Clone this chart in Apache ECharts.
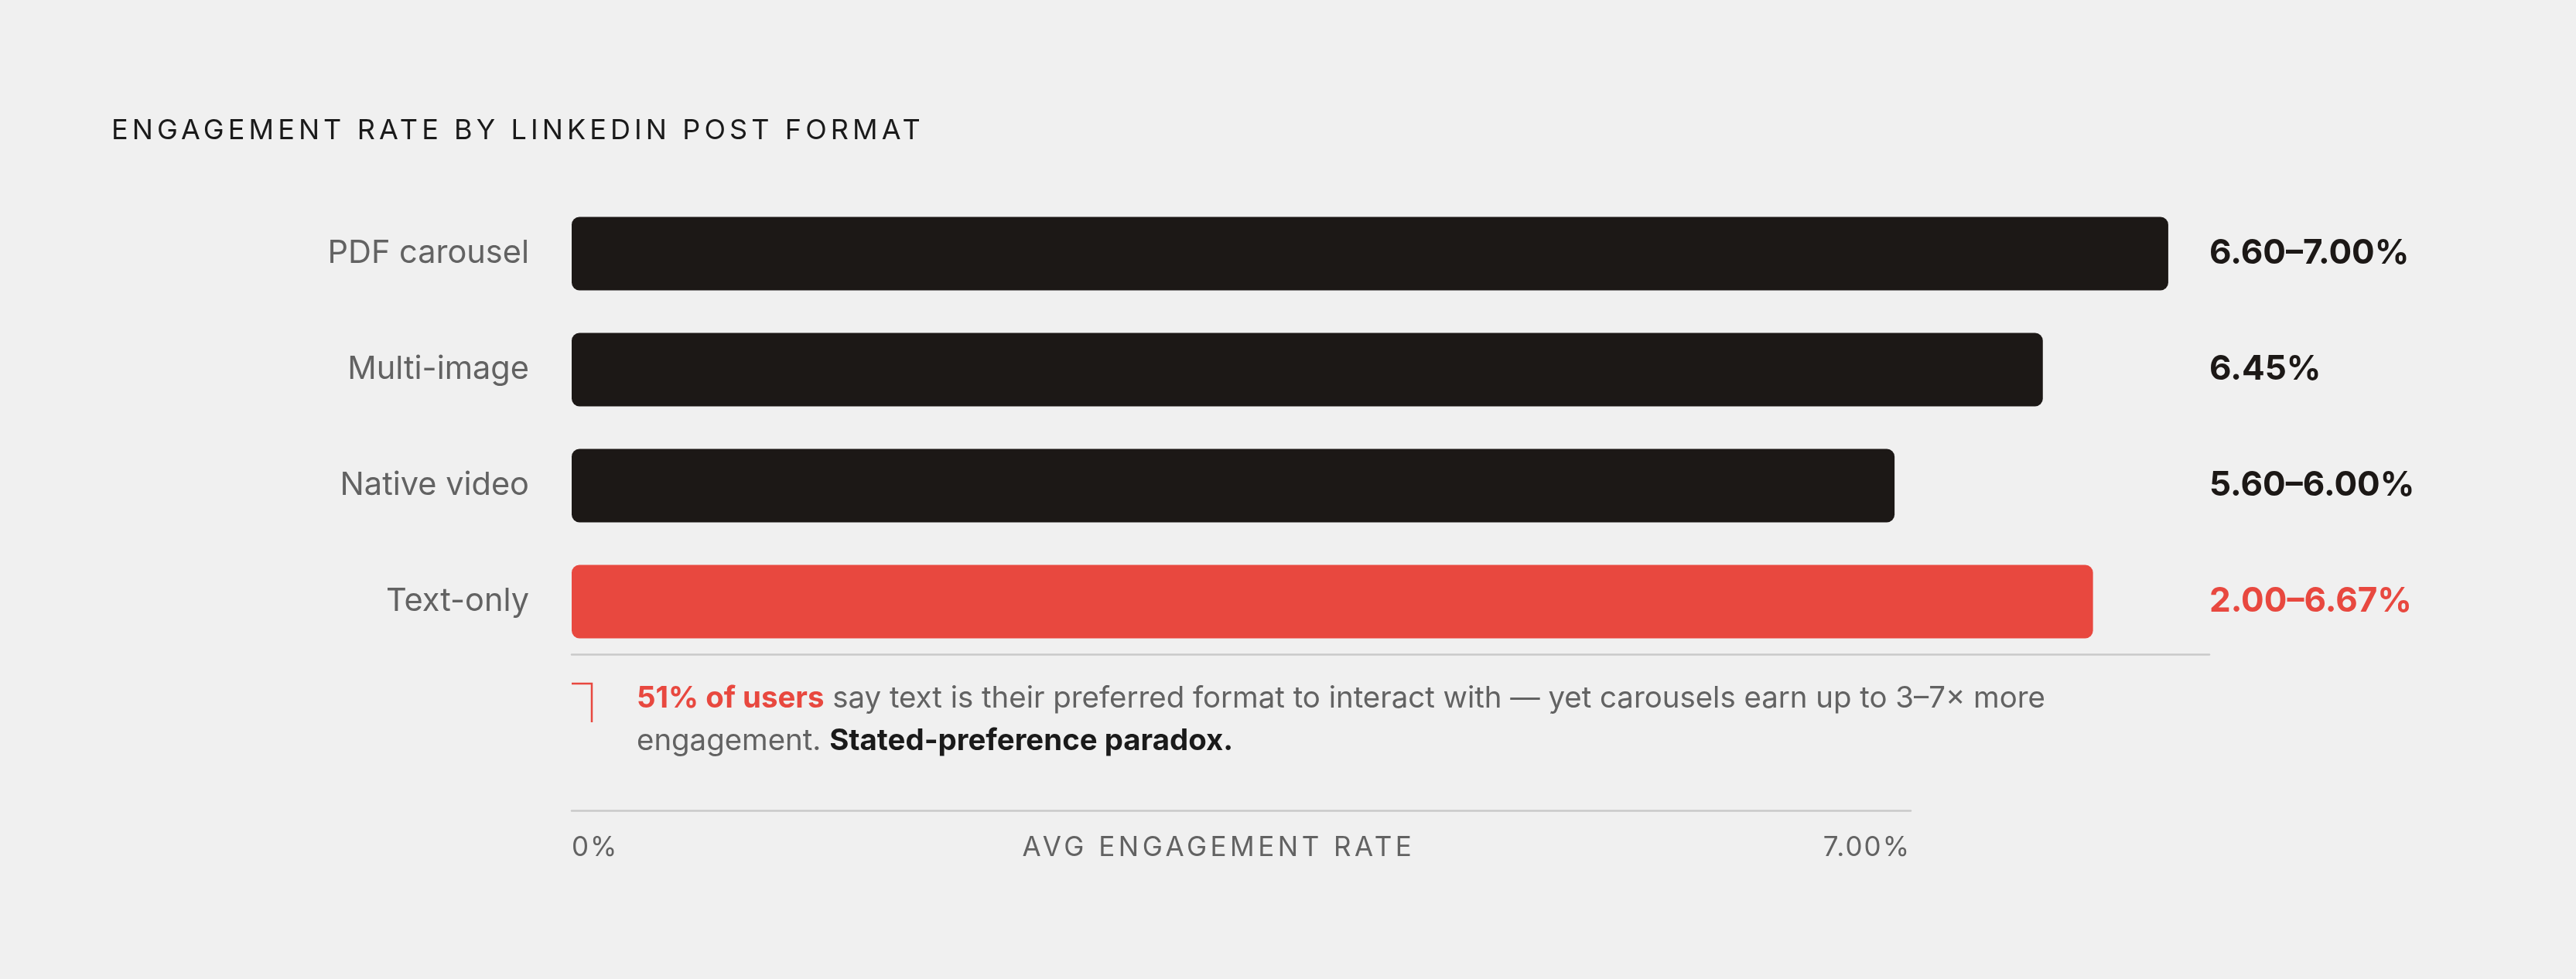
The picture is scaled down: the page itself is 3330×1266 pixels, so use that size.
<!DOCTYPE html>
<html>
<head>
<meta charset="utf-8">
<script src="https://cdn.jsdelivr.net/npm/echarts@6/dist/echarts.min.js"></script>
<style>
  html, body { margin: 0; padding: 0; background: #f0f0f0; }
  #chart { width: 3330px; height: 1266px; }
</style>
</head>
<body>
<div id="chart"></div>
<script>
// ---- data ----
const categories = ['PDF carousel', 'Multi-image', 'Native video', 'Text-only'];
const barValues = [7.00, 6.45, 5.80, 6.67];
const valueLabels = ['6.60–7.00%', '6.45%', '5.60–6.00%', '2.00–6.67%'];
const highlightCategory = 'Text-only';
const scaleTicks = [0, 7];
const scaleTickLabels = ['0%', '7.00%'];
const scaleName = 'AVG ENGAGEMENT RATE';
const titleText = 'ENGAGEMENT RATE BY LINKEDIN POST FORMAT';
const noteLine1 = ['51% of users', ' say text is their preferred format to interact with — yet carousels earn up to 3–7× more'];
const noteLine2 = ['engagement. ', 'Stated-preference paradox.'];

// ---- style ----
const FONT = 'Inter, "Noto Sans", sans-serif';
const DARK = '#1c1816';
const RED = '#e8483f';
const GRAY = '#626262';
const LINE = '#c9c9c9';

// letter-spacing for specific text runs (canvas letterSpacing), 0 for everything else
const SPACED = {};
SPACED[titleText] = '5.1px';
SPACED[scaleName] = '4.5px';
SPACED['0%'] = '2px';
SPACED['7.00%'] = '2px';
(function () {
  const proto = CanvasRenderingContext2D.prototype;
  const orig = proto.fillText;
  proto.fillText = function (t, x, y, w) {
    if ('letterSpacing' in this) {
      this.letterSpacing = SPACED[t] || '0px';
    }
    const r = w === undefined ? orig.call(this, t, x, y) : orig.call(this, t, x, y, w);
    if ('letterSpacing' in this) this.letterSpacing = '0px';
    return r;
  };
})();

const chart = echarts.init(document.getElementById('chart'), null, { renderer: 'canvas' });

const barData = barValues.map((v, i) => ({
  value: v,
  itemStyle: { color: categories[i] === highlightCategory ? RED : DARK }
}));

const option = {
  backgroundColor: '#f0f0f0',
  animation: false,
  title: {
    text: titleText,
    left: 144,
    top: 151,
    padding: 0,
    textStyle: { fontFamily: FONT, fontSize: 36, fontWeight: 400, color: '#1a1a1a', lineHeight: 36 }
  },
  grid: [
    { left: 739, top: 253, width: 2117, height: 600, containLabel: false },
    { left: 739, top: 1000, width: 1731, height: 48, containLabel: false }
  ],
  xAxis: [
    {
      gridIndex: 0, type: 'value', min: 0, max: 7.18,
      offset: -7,
      axisLine: { show: true, lineStyle: { color: LINE, width: 2.5 } },
      axisTick: { show: false }, axisLabel: { show: false }, splitLine: { show: false }
    },
    {
      gridIndex: 1, type: 'value', min: scaleTicks[0], max: scaleTicks[1], interval: scaleTicks[1] - scaleTicks[0],
      axisLine: { show: true, lineStyle: { color: LINE, width: 2.5 } },
      axisTick: { show: false }, splitLine: { show: false },
      axisLabel: {
        show: true, margin: 31,
        fontFamily: FONT, fontSize: 35, color: GRAY,
        alignMinLabel: 'left', alignMaxLabel: 'right',
        formatter: function (v) {
          const idx = scaleTicks.indexOf(v);
          return idx >= 0 ? scaleTickLabels[idx] : '';
        }
      },
      name: scaleName,
      nameLocation: 'middle',
      nameGap: 31,
      nameMoveOverlap: false,
      nameTextStyle: { fontFamily: FONT, fontSize: 35, color: GRAY, verticalAlign: 'top', padding: [0, 58, 0, 0] }
    }
  ],
  yAxis: [
    {
      gridIndex: 0, type: 'category', data: categories, inverse: true, position: 'left',
      axisLine: { show: false }, axisTick: { show: false }, splitLine: { show: false },
      axisLabel: { margin: 55, fontFamily: FONT, fontSize: 41.5, color: GRAY }
    },
    {
      gridIndex: 0, type: 'category', data: categories, inverse: true, position: 'right',
      axisLine: { show: false }, axisTick: { show: false }, splitLine: { show: false },
      axisLabel: {
        margin: 0, align: 'left',
        formatter: function (v, i) {
          const style = categories[i] === highlightCategory ? 'r' : 'd';
          return '{' + style + '|' + valueLabels[i] + '}';
        },
        rich: {
          d: { fontFamily: FONT, fontSize: 44, fontWeight: 700, color: DARK },
          r: { fontFamily: FONT, fontSize: 44, fontWeight: 700, color: RED }
        }
      }
    },
    { gridIndex: 1, type: 'value', show: false }
  ],
  series: [
    {
      type: 'bar', xAxisIndex: 0, yAxisIndex: 0,
      data: barData, barWidth: 95,
      itemStyle: { borderRadius: 10 },
      silent: true
    }
  ],
  graphic: [
    {
      type: 'polyline',
      shape: { points: [[739, 884], [765, 884], [765, 934]] },
      style: { stroke: RED, lineWidth: 2.5, fill: null }
    },
    {
      type: 'text',
      left: 823, top: 876,
      style: {
        text: '{red|' + noteLine1[0] + '}{g|' + noteLine1[1] + '}\n{g|' + noteLine2[0] + '}{b|' + noteLine2[1] + '}',
        lineHeight: 55,
        fill: GRAY,
        rich: {
          red: { fontFamily: FONT, fontSize: 38.4, fontWeight: 700, fill: RED, lineHeight: 55 },
          g: { fontFamily: FONT, fontSize: 38.4, fontWeight: 400, fill: GRAY, lineHeight: 55 },
          b: { fontFamily: FONT, fontSize: 38.4, fontWeight: 700, fill: '#1a1a1a', lineHeight: 55 }
        }
      }
    }
  ]
};
chart.setOption(option);
</script>
</body>
</html>
